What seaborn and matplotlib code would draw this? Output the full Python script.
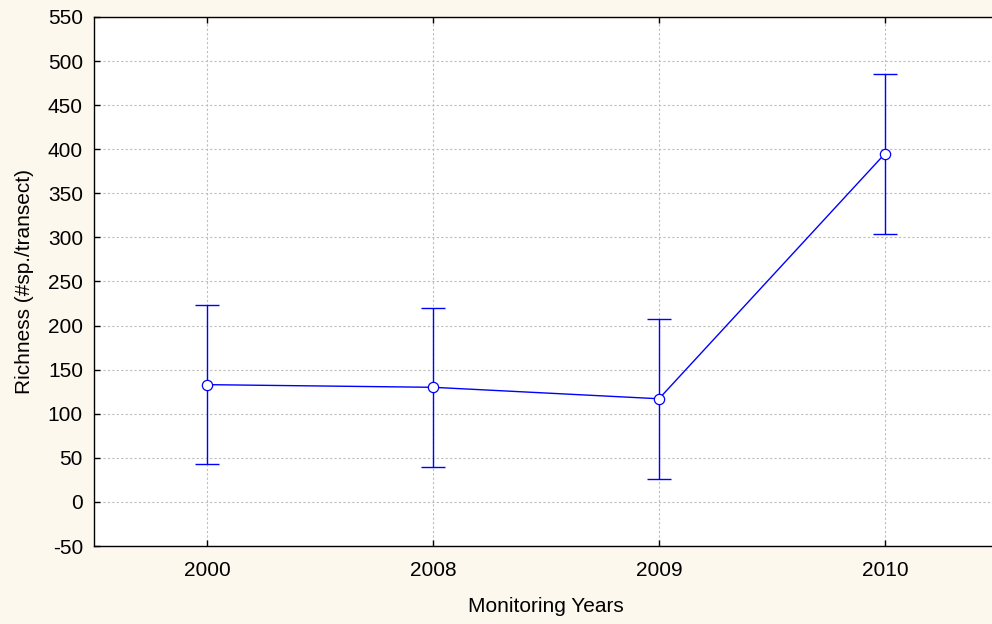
import matplotlib
matplotlib.use("Agg")
import matplotlib.pyplot as plt
import seaborn as sns
import pandas as pd
import numpy as np

# Mean species richness per transect with 95% confidence limits
years = ["2000", "2008", "2009", "2010"]
richness = [133, 130, 117, 395]
ci_lower = [43, 40, 26, 304]
ci_upper = [223, 220, 207, 485]

df = pd.DataFrame({"year": years, "richness": richness,
                   "lower": ci_lower, "upper": ci_upper})
df["pos"] = np.arange(len(years))

sns.set_theme(style="ticks")
plt.rcParams["font.family"] = ["Liberation Sans", "DejaVu Sans"]
plt.rcParams["axes.unicode_minus"] = False

blue = "#0000ff"
fs = 15
fig = plt.figure(figsize=(9.92, 6.24), dpi=100, facecolor="#fdf8ed")
ax = fig.add_axes([94 / 992, 78 / 624, 904 / 992, 529 / 624])
ax.set_facecolor("white")

# Confidence interval whiskers
ax.errorbar(df["pos"], df["richness"],
            yerr=[df["richness"] - df["lower"], df["upper"] - df["richness"]],
            fmt="none", ecolor=blue, elinewidth=1.0, capsize=8.6,
            capthick=1.0, zorder=2)

# Mean line with open circle markers
sns.lineplot(data=df, x="pos", y="richness", ax=ax, color=blue,
             linewidth=1.0, marker="o", markersize=7.4,
             markerfacecolor="white", markeredgecolor=blue,
             markeredgewidth=0.9, zorder=3)

ax.set_xlim(-0.5, 3.5)
ax.set_ylim(-50, 550)
ax.set_xticks(df["pos"])
ax.set_xticklabels(years)
ax.set_yticks(np.arange(-50, 551, 50))

ax.grid(True, color="#bdbdbd", linestyle=(0, (2, 2)), linewidth=0.8)
ax.set_axisbelow(True)

for side in ["left", "bottom", "top"]:
    ax.spines[side].set_color("black")
    ax.spines[side].set_linewidth(1.0)
ax.spines["right"].set_visible(False)

ax.tick_params(axis="x", direction="in", length=4, width=1, color="black",
               top=True, bottom=True, labelsize=fs, pad=11, labelcolor="black")
ax.tick_params(axis="y", direction="in", length=4, width=1, color="black",
               left=True, right=False, labelsize=fs, pad=8, labelcolor="black")

ax.set_xlabel("Monitoring Years", fontsize=fs, color="black", labelpad=12)
ax.set_ylabel("Richness (#sp./transect)", fontsize=fs, color="black", labelpad=10)

fig.savefig("out.png", dpi=100, facecolor=fig.get_facecolor())
